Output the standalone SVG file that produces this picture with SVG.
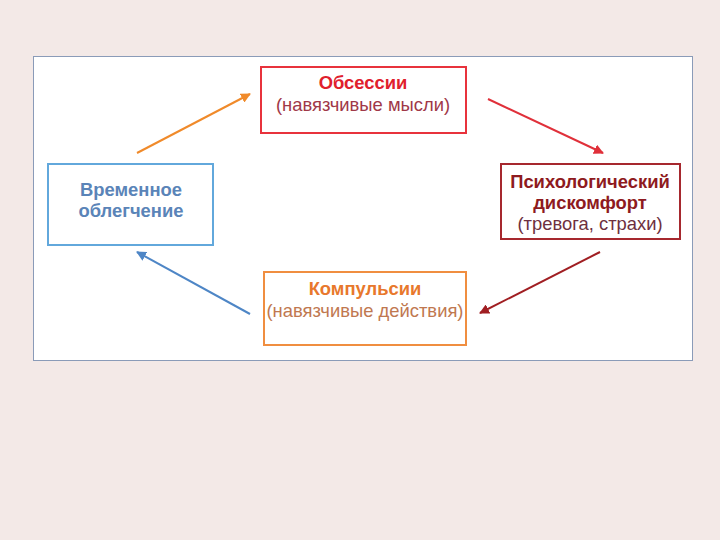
<svg xmlns="http://www.w3.org/2000/svg" width="720" height="540" viewBox="0 0 720 540">
<style>
text{font-family:"Liberation Sans",Arial,sans-serif;font-size:18.4px;text-anchor:middle}
.b{font-weight:bold}
.box{fill:#fff;stroke-width:2}
.c{fill:none;stroke-width:2}
</style>
<defs>
<marker id="mo" viewBox="0 0 10 10" refX="9" refY="5" markerWidth="5" markerHeight="5" orient="auto"><path d="M0,0L10,5L0,10z" fill="#F08A2A"/></marker>
<marker id="mr" viewBox="0 0 10 10" refX="9" refY="5" markerWidth="5" markerHeight="5" orient="auto"><path d="M0,0L10,5L0,10z" fill="#E0303A"/></marker>
<marker id="md" viewBox="0 0 10 10" refX="9" refY="5" markerWidth="5" markerHeight="5" orient="auto"><path d="M0,0L10,5L0,10z" fill="#A01E22"/></marker>
<marker id="mb" viewBox="0 0 10 10" refX="9" refY="5" markerWidth="5" markerHeight="5" orient="auto"><path d="M0,0L10,5L0,10z" fill="#4E86C6"/></marker>
</defs>
<rect width="720" height="540" fill="#F3E9E7"/>
<rect x="33.5" y="56.5" width="659" height="304" fill="#fff" stroke="#8A9BB8" stroke-width="1"/>
<g id="connectors">
<line class="c" x1="137" y1="153" x2="250" y2="94" stroke="#F08A2A" marker-end="url(#mo)"/>
<line class="c" x1="488" y1="99" x2="603" y2="153" stroke="#E0303A" marker-end="url(#mr)"/>
<line class="c" x1="600" y1="252" x2="480" y2="313" stroke="#A01E22" marker-end="url(#md)"/>
<line class="c" x1="250" y1="314" x2="137" y2="252" stroke="#4E86C6" marker-end="url(#mb)"/>
</g>
<g id="obsessions">
<rect class="box" x="261" y="67" width="205" height="66" stroke="#E8323C"/>
<text class="b" x="363" y="89" fill="#E0202C">Обсессии</text>
<text x="363" y="111" fill="#A03848">(навязчивые мысли)</text>
</g>
<g id="discomfort">
<rect class="box" x="501" y="164" width="179" height="75" stroke="#A6282E"/>
<text class="b" x="590" y="188" fill="#8E1A20">Психологический</text>
<text class="b" x="590" y="209" fill="#8E1A20">дискомфорт</text>
<text x="590" y="230" fill="#6E3040">(тревога, страхи)</text>
</g>
<g id="relief">
<rect class="box" x="48" y="164" width="165" height="81" stroke="#62A8DC"/>
<text class="b" x="131" y="196" fill="#5A84B8">Временное</text>
<text class="b" x="131" y="217" fill="#5A84B8">облегчение</text>
</g>
<g id="compulsions">
<rect class="box" x="264" y="272" width="202" height="73" stroke="#F08E40"/>
<text class="b" x="365" y="295" fill="#E8782C">Компульсии</text>
<text x="365" y="317" fill="#C07850">(навязчивые действия)</text>
</g>
</svg>
